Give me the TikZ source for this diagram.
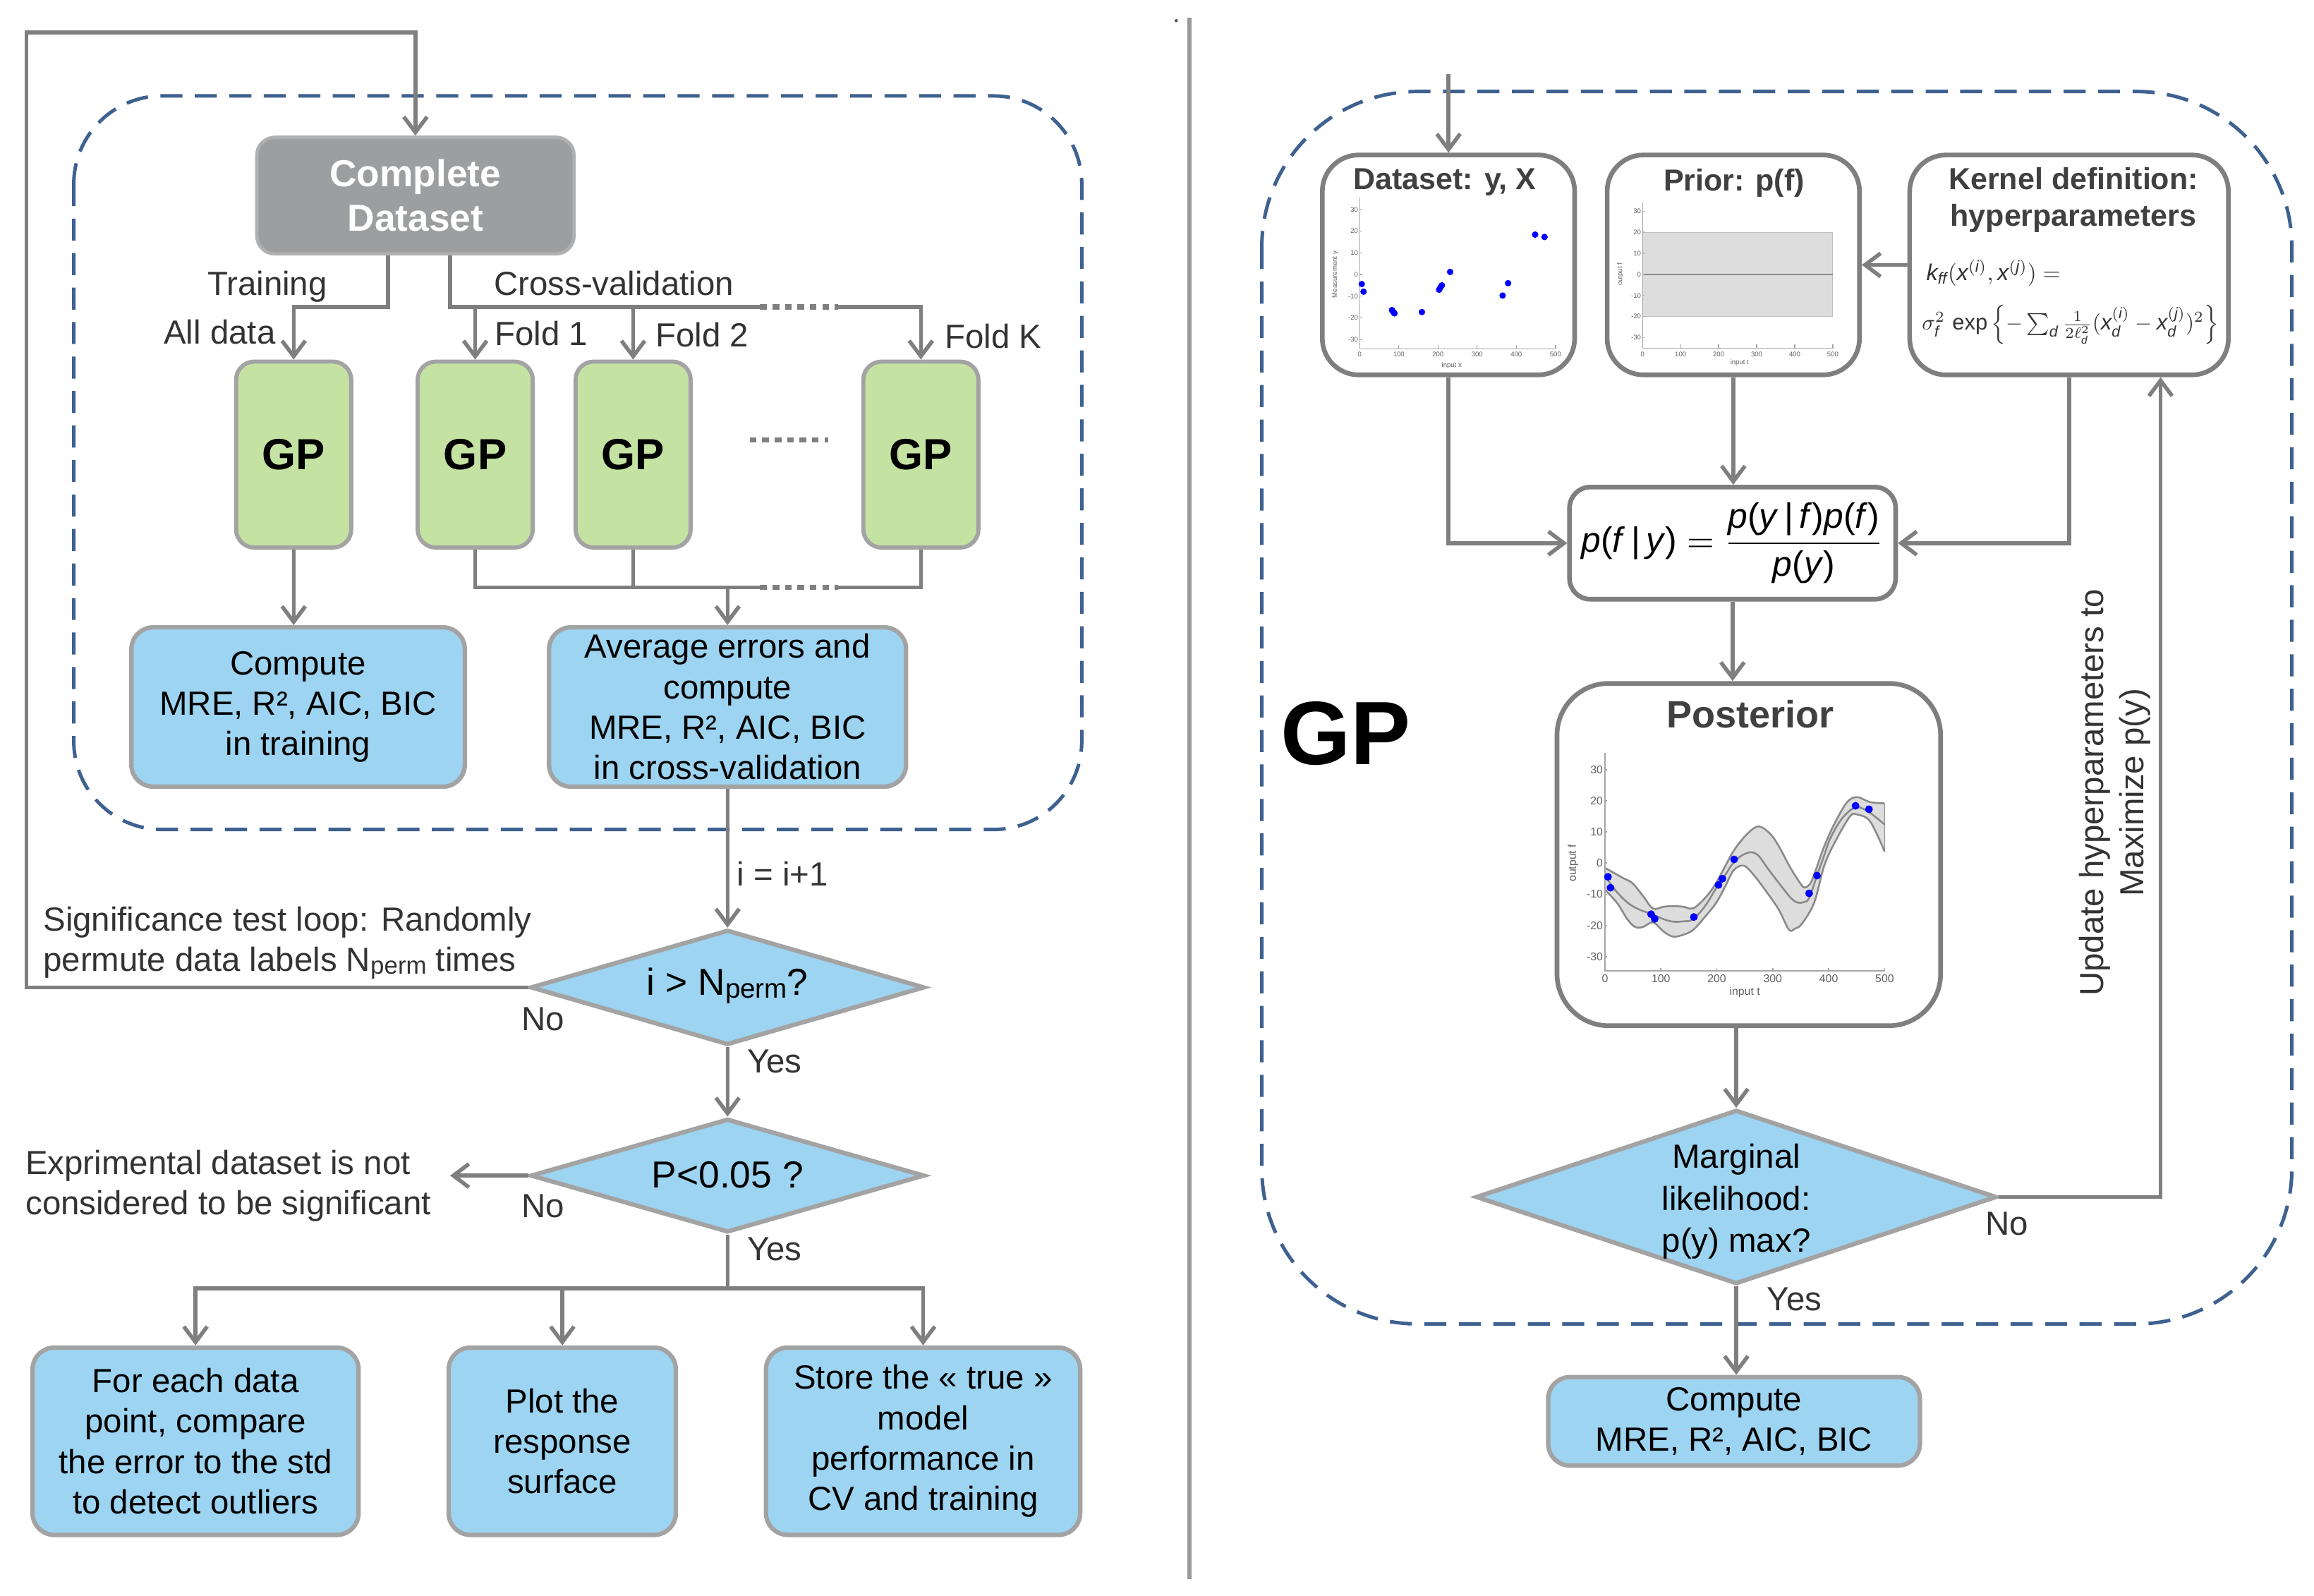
\documentclass[tikz,border=0pt]{standalone}
\usepackage{amsmath}
\usepackage{graphicx}
\usepackage{fontspec}
\setmainfont{Liberation Sans}
\usetikzlibrary{arrows.meta,shapes.geometric}
\definecolor{lineg}{HTML}{7F7F7F}
\definecolor{boxg}{HTML}{A3A3A3}
\definecolor{darkg}{HTML}{7F7F7F}
\definecolor{gpgreen}{HTML}{C4E3A2}
\definecolor{bluef}{HTML}{9DD4F1}
\definecolor{cdgray}{HTML}{9C9E9F}
\definecolor{cdedge}{HTML}{B0B0B0}
\definecolor{dashb}{HTML}{3E6190}
\definecolor{labc}{HTML}{333333}
\definecolor{titc}{HTML}{404040}
\definecolor{bandc}{HTML}{DDDDDD}
\definecolor{curvc}{HTML}{8A8A8A}
\definecolor{axc}{HTML}{A6A6A6}
\definecolor{plotc}{HTML}{606060}
\definecolor{sepc}{HTML}{9A9A9A}
\newcommand\fLbl{\fontsize{12.9}{15.6}\selectfont}
\newcommand\fMar{\fontsize{12.9}{16.3}\selectfont}
\newcommand\fDia{\fontsize{14.5}{17}\selectfont}
\newcommand\fCD{\bfseries\fontsize{14.5}{17}\selectfont}
\newcommand\fGP{\bfseries\fontsize{16.8}{20}\selectfont}
\newcommand\fBig{\bfseries\fontsize{34.7}{40}\selectfont}
\newcommand\fTit{\bfseries\fontsize{11.7}{14.2}\selectfont}
\newcommand\fPost{\bfseries\fontsize{14.7}{17}\selectfont}
\newcommand\fTiny{\fontsize{2.6}{3}\selectfont}
\newcommand\fSm{\fontsize{4.3}{5}\selectfont}
\newcommand\sperm{\raisebox{-0.08em}{\fontsize{9.5}{10}\selectfont perm}}
\newcommand\spermb{\raisebox{-0.08em}{\fontsize{10.5}{11}\selectfont perm}}
\begin{document}
\begin{tikzpicture}[x=0.02cm, y=-0.02cm,
  conn/.style={draw=lineg, line width=1.5pt},
  arr/.style={conn, -{Straight Barb[length=6pt, width=9pt]}},
  dotseg/.style={draw=lineg, line width=2.1pt, dash pattern=on 2.6pt off 2.2pt},
  lbl/.style={text=labc, font=\fLbl, inner sep=0pt},
  cdbox/.style={rounded corners=7pt, fill=cdgray, draw=cdedge, line width=1.3pt, text=white, font=\fCD, align=center, minimum width=4.3cm, minimum height=1.58cm},
  gpbox/.style={rounded corners=7pt, fill=gpgreen, draw=boxg, line width=1.6pt, font=\fGP, minimum width=1.56cm, minimum height=2.52cm},
  bluebox/.style={rounded corners=8.5pt, fill=bluef, draw=boxg, line width=1.7pt, align=center, font=\fLbl, text=black, inner sep=1pt},
  dia/.style={diamond, fill=bluef, draw=boxg, line width=1.7pt, inner sep=0pt},
  wbox/.style={rounded corners=14pt, fill=white, draw=darkg, line width=1.8pt, inner sep=0pt},
  dashbox/.style={draw=dashb, line width=1.35pt, dash pattern=on 8.5pt off 4.8pt},
  tick/.style={font=\fTiny, text=plotc, inner sep=0.4pt},
  tickm/.style={font=\fSm, text=plotc, inner sep=0.6pt},
  axis/.style={draw=axc, line width=0.35pt},
  curve/.style={draw=curvc, line width=0.7pt},
  dot/.style={fill=blue}
]
\useasboundingbox (0,0) rectangle (1568,1081.3);
\fill[white] (0,0) rectangle (1568,1081.3);

% ---------------- left panel ----------------
\draw[dashbox, rounded corners=34pt] (50,65) rectangle (733,562);

\node[cdbox] (cd) at (281.5,132.5) {Complete\\Dataset};
\node[gpbox] (g1) at (199,308) {GP};
\node[gpbox] (g2) at (322,308) {GP};
\node[gpbox] (g3) at (429,308) {GP};
\node[gpbox] (gk) at (624,308) {GP};
\coordinate (gdA) at (508,298);
\coordinate (gdB) at (561,298);
\draw[dotseg] (gdA) -- (gdB);

\node[bluebox, minimum width=4.52cm, minimum height=2.16cm] (c1) at (202,479) {Compute\\MRE, R², AIC, BIC\\in training};
\node[bluebox, minimum width=4.84cm, minimum height=2.16cm] (av) at (493,479) {Average errors and\\compute\\MRE, R², AIC, BIC\\in cross-validation};

\node[dia, minimum width=5.34cm, minimum height=1.56cm] (d1) at (493,669) {};
\node[font=\fDia, text=black, inner sep=0pt] (t1) at (493,668) {i > N\spermb?};
\node[dia, minimum width=5.34cm, minimum height=1.54cm] (d2) at (493,796.5) {};
\node[font=\fDia, text=black, inner sep=0pt] (t2) at (493,796) {P<0.05 ?};

\node[bluebox, minimum width=4.42cm, minimum height=2.54cm] (bA) at (132.5,976.5) {For each data\\point, compare\\the error to the std\\to detect outliers};
\node[bluebox, minimum width=3.08cm, minimum height=2.54cm] (bB) at (381,976.5) {Plot the\\response\\surface};
\node[bluebox, minimum width=4.26cm, minimum height=2.54cm] (bC) at (625.5,976.5) {Store the « true »\\model\\performance in\\CV and training};

% labels left
\node[lbl, anchor=base east] (lTr) at (222,200) {Training};
\node[lbl, anchor=base east] (lAll) at (187,233) {All data};
\node[lbl, anchor=base] (lCV) at (416,200) {Cross-validation};
\node[lbl, anchor=base west] (lF1) at (335,234) {Fold 1};
\node[lbl, anchor=base west] (lF2) at (444,235) {Fold 2};
\node[lbl, anchor=base west] (lFK) at (640,236) {Fold K};
\node[lbl, anchor=base west] (lInc) at (499,600) {i = i+1};
\node[lbl, anchor=base west, align=left] (lSig) at (29,658) {Significance test loop: Randomly\\permute data labels N\sperm{} times};
\node[lbl, anchor=base] (lNo1) at (368,698) {No};
\node[lbl, anchor=base west] (lYes1) at (506,727) {Yes};
\node[lbl, anchor=base west, align=left] (lExp) at (17,823) {Exprimental dataset is not\\considered to be significant};
\node[lbl, anchor=base] (lNo2) at (368,825) {No};
\node[lbl, anchor=base west] (lYes2) at (506,854) {Yes};

% connectors left
\coordinate (lp1) at (18,669);
\coordinate (lp2) at (18,22);
\draw[arr] (d1.west) -- (lp1) -- (lp2) -| (cd.north);
\coordinate (tr) at (263,208);
\draw[arr] (cd.south -| tr) -- (tr) -| (g1.north);
\coordinate (cv) at (305,208);
\coordinate (dA) at (515,208);
\coordinate (dB) at (568,208);
\draw[conn] (cd.south -| cv) -- (cv) -- (dA);
\draw[dotseg] (dA) -- (dB);
\draw[arr] (dB) -| (gk.north);
\draw[arr] (g2.north |- cv) -- (g2.north);
\draw[arr] (g3.north |- cv) -- (g3.north);
\draw[arr] (g1.south) -- (g1.south |- c1.north);
\coordinate (jA) at (515,398);
\coordinate (jB) at (568,398);
\draw[conn] (g2.south) |- (jA);
\draw[dotseg] (jA) -- (jB);
\draw[conn] (jB) -| (gk.south);
\draw[conn] (g3.south) -- (g3.south |- jA);
\draw[arr] (av.north |- jA) -- (av.north);
\draw[arr] (av.south) -- (d1.north);
\draw[arr] (d1.south) -- (d2.north);
\coordinate (nsig) at (305,796.5);
\draw[arr] (d2.west) -- (nsig);
\coordinate (br) at (493,873);
\draw[conn] (d2.south) -- (br);
\draw[arr] (br) -| (bA.north);
\draw[arr] (br) -| (bB.north);
\draw[arr] (br) -| (bC.north);

% separator
\coordinate (sepA) at (806,12);
\coordinate (sepB) at (806,1070);
\draw[draw=sepc, line width=1.7pt] (sepA) -- (sepB);
\fill[black!70] (797,14) circle (0.6pt);

% ---------------- right panel ----------------
\draw[dashbox, rounded corners=60pt] (855,62) rectangle (1553,897);

\node[wbox, minimum width=3.42cm, minimum height=2.98cm] (ds) at (981.5,179.5) {};
\node[wbox, minimum width=3.42cm, minimum height=2.98cm] (pr) at (1174.5,179.5) {};
\node[wbox, minimum width=4.32cm, minimum height=2.98cm] (kr) at (1402,179.5) {};
\node[wbox, rounded corners=8pt, minimum width=4.42cm, minimum height=1.52cm] (fm) at (1174,368)
  {\resizebox{4.1cm}{!}{$\text{\textit{p}(\textit{f}\,|\,\textit{y})} = \dfrac{\text{\textit{p}(\textit{y}\,|\,\textit{f})\textit{p}(\textit{f})}}{\text{\textit{p}(\textit{y})}}$}};
\node[wbox, rounded corners=20pt, minimum width=5.2cm, minimum height=4.64cm] (po) at (1185,579) {};
\node[dia, minimum width=7.06cm, minimum height=2.36cm] (d3) at (1176.5,811) {};
\node[font=\fMar, text=black, align=center, inner sep=0pt] (t3) at (1176.5,814) {Marginal\\likelihood:\\p(y) max?};
\node[bluebox, minimum width=5.04cm, minimum height=1.2cm] (cp) at (1175,963) {Compute\\MRE, R², AIC, BIC};

\node[font=\fBig, text=black, inner sep=0pt] (gpbig) at (912,497) {GP};

% titles
\node[font=\fTit, text=titc, anchor=north, inner sep=0pt] (tDs) at (979,114) {Dataset: y, X};
\node[font=\fTit, text=titc, anchor=north, inner sep=0pt] (tPr) at (1175,114) {Prior: p(f)};
\node[font=\fTit, text=titc, anchor=north, align=center, inner sep=0pt] (tKr) at (1405,113) {Kernel definition:\\hyperparameters};
\node[font=\fPost, text=titc, anchor=north, inner sep=0pt] (tPo) at (1186,474) {Posterior};

% kernel formula
\node[anchor=west, inner sep=0pt, text=labc] (kf1) at (1305,185)
  {\resizebox{1.82cm}{!}{$\textit{k}_{\textit{ff}}(\textit{x}^{(\textit{i})},\textit{x}^{(\textit{j})}) =$}};
\node[anchor=west, inner sep=0pt, text=labc] (kf2) at (1302,220)
  {\resizebox{4.02cm}{!}{$\sigma_{\textit{f}}^{2}\,\exp\left\{-\textstyle\sum_{\textit{d}}\frac{1}{2\ell_{\textit{d}}^{2}}(\textit{x}_{\textit{d}}^{(\textit{i})}-\textit{x}_{\textit{d}}^{(\textit{j})})^{2}\right\}$}};

% labels right
\node[lbl, rotate=90, align=center] (lUpd) at (1433,537) {Update hyperparameters to\\Maximize p(y)};
\node[lbl, anchor=base west] (lNo3) at (1345,837) {No};
\node[lbl, anchor=base west] (lYes3) at (1197,888) {Yes};

% connectors right
\coordinate (tin) at (981.5,50);
\draw[arr] (tin) -- (ds.north);
\draw[arr] (kr.west) -- (pr.east);
\draw[arr] (ds.south) |- (fm.west);
\draw[arr] (pr.south) -- (pr.south |- fm.north);
\draw[arr] (kr.south) |- (fm.east);
\draw[arr] (fm.south) -- (fm.south |- po.north);
\draw[arr] (d3.north |- po.south) -- (d3.north);
\coordinate (up) at (1464,811);
\draw[arr] (d3.east) -- (up) -- (up |- kr.south);
\draw[arr] (d3.south) -- (d3.south |- cp.north);

% ---------- dataset plot ----------
\begin{scope}[shift={(921.3,186)}, x=0.005308cm, y=0.0294cm]
  \draw[axis] (0,35.5) -- (0,-34.2) -- (500,-34.2);
  \foreach \yy in {-30,-20,...,30} {
    \draw[axis] (0,\yy) -- (6,\yy);
    \node[tick, anchor=east] (dsy\yy) at (0,\yy) {\yy};
  }
  \foreach \xx in {0,100,...,500} {
    \draw[axis] (\xx,-34.2) -- (\xx,-32.5);
    \node[tick, anchor=north] (dsx\xx) at (\xx,-35) {\xx};
  }
  \node[tick, rotate=90] (dsyl) at (-62,0) {Measurement y};
  \node[tick] (dsxl) at (235,-42) {input x};
  \foreach \px/\py in {5.4/-4.4,10/-7.9,82.6/-16.4,86/-17.3,89/-17.9,159/-17.3,203/-7.0,206/-6.0,210/-5.0,231/1.2,365/-9.7,379/-4.0,448/18.4,472/17.3}
    \fill[dot] (\px,\py) circle[radius=1.25pt];
\end{scope}

% ---------- prior plot ----------
\begin{scope}[shift={(1113,185.9)}, x=0.00516cm, y=0.0286cm]
  \fill[bandc] (0,20) rectangle (500,-20);
  \draw[draw=black!25, line width=0.3pt] (0,20) -- (500,20) (0,-20) -- (500,-20) (500,20) -- (500,-20);
  \draw[draw=black!45, line width=0.6pt] (0,0) -- (500,0);
  \draw[axis] (0,34.2) -- (0,-35) -- (500,-35);
  \foreach \yy in {-30,-20,...,30} {
    \draw[axis] (0,\yy) -- (6,\yy);
    \node[tick, anchor=east] (pry\yy) at (0,\yy) {\yy};
  }
  \foreach \xx in {0,100,...,500} {
    \draw[axis] (\xx,-35) -- (\xx,-33.3);
    \node[tick, anchor=north] (prx\xx) at (\xx,-36) {\xx};
  }
  \node[tick, rotate=90] (pryl) at (-58,0) {output f};
  \node[tick] (prxl) at (255,-42) {input t};
\end{scope}

% ---------- posterior plot ----------
\begin{scope}[shift={(1087.5,584.8)}, x=0.00758cm, y=0.0422cm]
  \fill[bandc] plot[smooth, tension=0.55] coordinates {(0,-1.5)(31.6,-4.7)(49.6,-6.5)(70,-11)(86,-14.6)(105,-14)(122,-13.8)(140,-14)(158,-14.5)(180,-11)(199,-6.3)(230,3.9)(255,9.5)(275,11.8)(295,9.5)(311,5.4)(330,-1)(347,-5.9)(356,-7.8)(366,-6.8)(374,-3.7)(392,5.4)(411,12.9)(433,19.6)(451,21.2)(474,19.6)(500,19.2)}
    -- plot[smooth, tension=0.55] coordinates {(500,3.7)(474,13.4)(451,15.6)(438,15)(411,6.7)(392,-0.8)(374,-12.7)(352,-19.5)(340,-21)(329,-21.4)(311,-15)(290,-9.5)(266,-3.8)(248,-0.8)(230,-2.3)(215,-7.5)(199,-12.7)(180,-17)(158,-21.4)(140,-23)(122,-23.6)(105,-22)(86,-19)(68,-20.5)(54,-20.5)(40,-18)(22.6,-13)(0,-8.5)} -- cycle;
  \draw[curve] plot[smooth, tension=0.55] coordinates {(0,-1.5)(31.6,-4.7)(49.6,-6.5)(70,-11)(86,-14.6)(105,-14)(122,-13.8)(140,-14)(158,-14.5)(180,-11)(199,-6.3)(230,3.9)(255,9.5)(275,11.8)(295,9.5)(311,5.4)(330,-1)(347,-5.9)(356,-7.8)(366,-6.8)(374,-3.7)(392,5.4)(411,12.9)(433,19.6)(451,21.2)(474,19.6)(500,19.2)};
  \draw[curve] plot[smooth, tension=0.55] coordinates {(0,-8.5)(22.6,-13)(40,-18)(54,-20.5)(68,-20.5)(86,-19)(105,-22)(122,-23.6)(140,-23)(158,-21.4)(180,-17)(199,-12.7)(215,-7.5)(230,-2.3)(248,-0.8)(266,-3.8)(290,-9.5)(311,-15)(329,-21.4)(340,-21)(352,-19.5)(374,-12.7)(392,-0.8)(411,6.7)(438,15)(451,15.6)(474,13.4)(500,3.7)};
  \draw[curve] plot[smooth, tension=0.55] coordinates {(0,-4)(20,-9)(40.6,-12.7)(60,-14.8)(85.7,-16.5)(105,-18)(122,-18.8)(140,-18.7)(158,-18)(180,-13.5)(199,-8)(215,-3.8)(230,0.2)(246,2.6)(262,3.5)(275,2.3)(289,-1.2)(305,-5)(320,-8.5)(334,-11.5)(345,-12.7)(356,-12.5)(365,-11.2)(379,-4)(390,1.5)(401,7.2)(415,12)(429,15.4)(449,18)(471,16.5)(500,12.4)};
  \draw[curve, line width=0.4pt] (500,19.2) -- (500,3.7);
  \draw[axis, line width=0.45pt] (0,35.5) -- (0,-34.6) -- (500,-34.6);
  \foreach \yy in {-30,-20,...,30} {
    \draw[axis, line width=0.45pt] (0,\yy) -- (4,\yy);
    \node[tickm, anchor=east] (poy\yy) at (0,\yy) {\yy};
  }
  \foreach \xx in {0,100,...,500} {
    \draw[axis, line width=0.45pt] (\xx,-34.6) -- (\xx,-33.6);
    \node[tickm, anchor=north] (pox\xx) at (\xx,-35.2) {\xx};
  }
  \node[tickm, rotate=90] (poyl) at (-57,0) {output f};
  \node[tickm] (poxl) at (250,-41.5) {input t};
  \foreach \px/\py in {5.4/-4.4,10/-7.9,82.6/-16.4,89/-17.9,159/-17.3,203/-7.0,210/-5.0,231/1.2,365/-9.7,379/-4.0,448/18.4,472/17.3}
    \fill[dot] (\px,\py) circle[radius=1.5pt];
\end{scope}
\end{tikzpicture}
\end{document}
